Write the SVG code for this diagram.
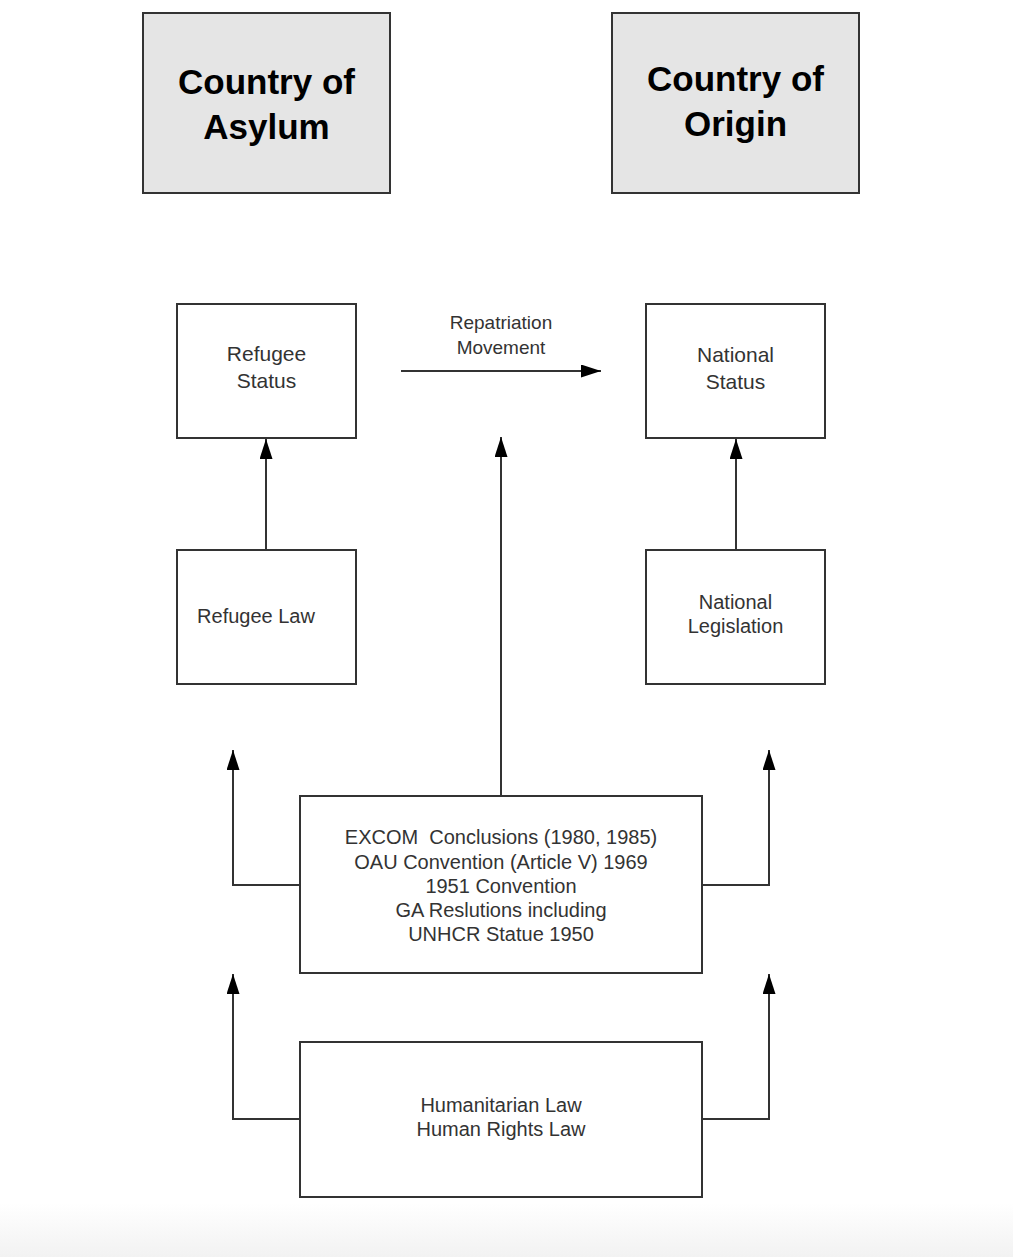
<svg xmlns="http://www.w3.org/2000/svg" width="1013" height="1257" viewBox="0 0 1013 1257">
<style>
.box{fill:#fff;stroke:#333;stroke-width:2}
.hdr{fill:#e5e5e5;stroke:#333;stroke-width:2}
.t{font-family:"Liberation Sans",Arial,sans-serif;font-size:20px;fill:#333;text-anchor:middle}
.h{font-family:"Liberation Sans",Arial,sans-serif;font-size:35px;font-weight:bold;fill:#000;text-anchor:middle}
.c{fill:none;stroke:#333;stroke-width:2;marker-end:url(#ah)}
</style>
<defs>
<marker id="ah" viewBox="0 0 20 13" refX="20" refY="6.5" markerWidth="20" markerHeight="13" markerUnits="userSpaceOnUse" orient="auto">
<path d="M0,0 L20,6.5 L0,13 Z" fill="#000"/>
</marker>
<linearGradient id="bg" x1="0" y1="0" x2="0" y2="1">
<stop offset="0" stop-color="#ffffff"/>
<stop offset="1" stop-color="#f2f2f2"/>
</linearGradient>
</defs>
<rect x="0" y="0" width="1013" height="1257" fill="#fff"/>
<rect x="0" y="1203" width="1013" height="54" fill="url(#bg)"/>
<g id="asylum"><rect class="hdr" x="143" y="13" width="247" height="180"/><text class="h" x="266.5" y="94">Country of</text><text class="h" x="266.5" y="139">Asylum</text></g>
<g id="origin"><rect class="hdr" x="612" y="13" width="247" height="180"/><text class="h" x="735.5" y="91">Country of</text><text class="h" x="735.5" y="136">Origin</text></g>
<g id="refugee-status"><rect class="box" x="177" y="304" width="179" height="134"/><text class="t" x="266.5" y="361" style="font-size:21px">Refugee</text><text class="t" x="266.5" y="388" style="font-size:21px">Status</text></g>
<g id="national-status"><rect class="box" x="646" y="304" width="179" height="134"/><text class="t" x="735.5" y="362" style="font-size:21px">National</text><text class="t" x="735.5" y="389" style="font-size:21px">Status</text></g>
<g id="refugee-law"><rect class="box" x="177" y="550" width="179" height="134"/><text class="t" x="256" y="623">Refugee Law</text></g>
<g id="national-legislation"><rect class="box" x="646" y="550" width="179" height="134"/><text class="t" x="735.5" y="609">National</text><text class="t" x="735.5" y="633">Legislation</text></g>
<g id="instruments"><rect class="box" x="300" y="796" width="402" height="177"/>
<text class="t" x="501" y="844" xml:space="preserve">EXCOM  Conclusions (1980, 1985)</text>
<text class="t" x="501" y="869">OAU Convention (Article V) 1969</text>
<text class="t" x="501" y="893">1951 Convention</text>
<text class="t" x="501" y="917">GA Reslutions including</text>
<text class="t" x="501" y="941">UNHCR Statue 1950</text></g>
<g id="humanitarian"><rect class="box" x="300" y="1042" width="402" height="155"/>
<text class="t" x="501" y="1112">Humanitarian Law</text>
<text class="t" x="501" y="1136">Human Rights Law</text></g>
<g id="connectors">
<path class="c" d="M401,371 L601,371"/>
<text class="t" x="501" y="329" style="font-size:19px">Repatriation</text>
<text class="t" x="501" y="354" style="font-size:19px">Movement</text>
<path class="c" d="M266,550 L266,439"/>
<path class="c" d="M736,550 L736,439"/>
<path class="c" d="M501,796 L501,437"/>
<path class="c" d="M300,885 L233,885 L233,750"/>
<path class="c" d="M702,885 L769,885 L769,750"/>
<path class="c" d="M300,1119 L233,1119 L233,974"/>
<path class="c" d="M702,1119 L769,1119 L769,974"/>
</g>
</svg>
